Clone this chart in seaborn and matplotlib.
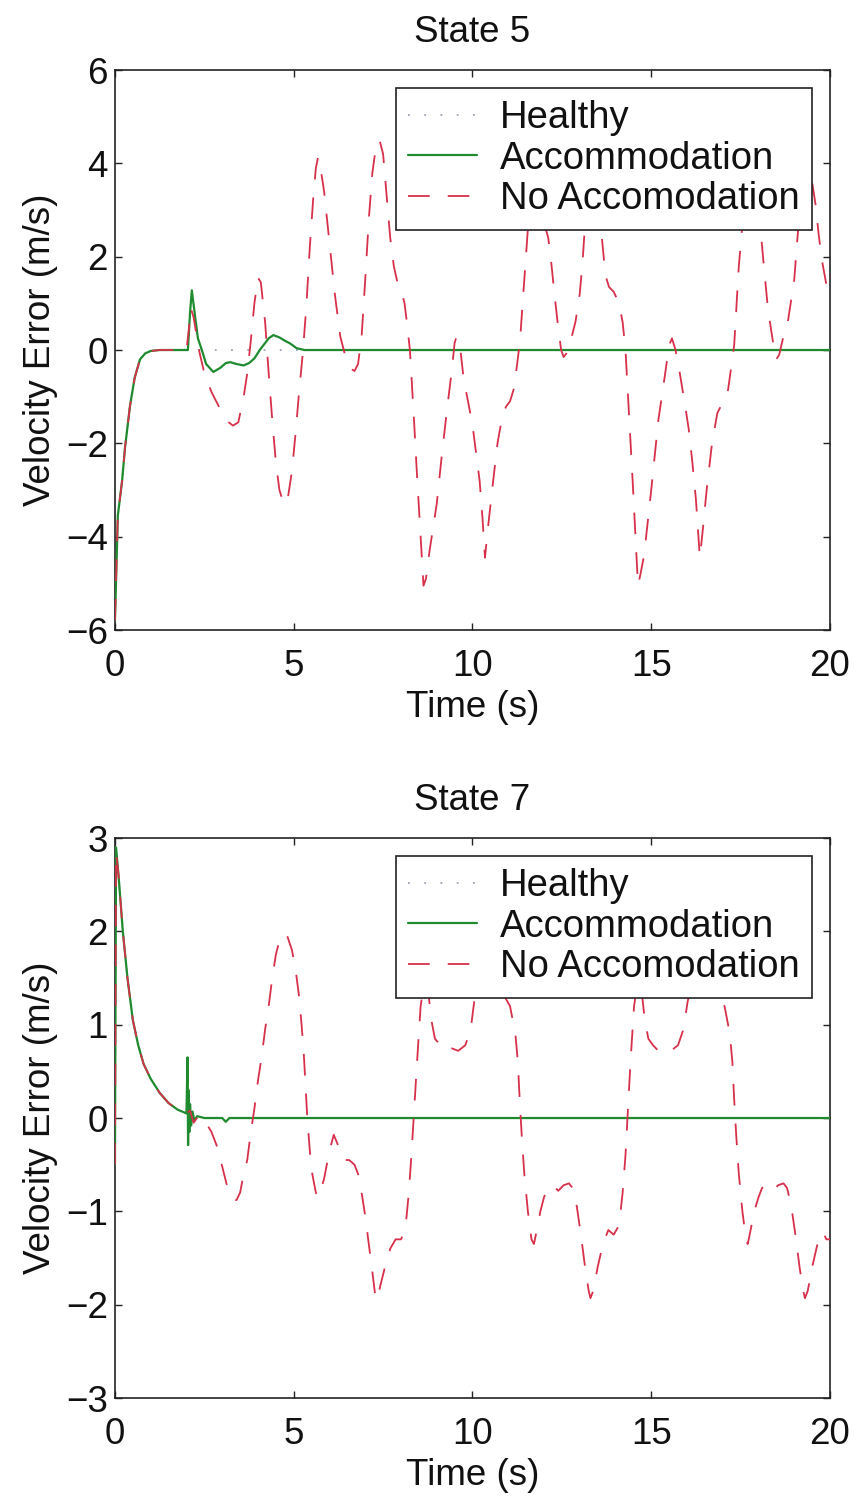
import matplotlib
matplotlib.use("Agg")
import matplotlib.pyplot as plt
import seaborn as sns

# ---- State 5 ----
s5_healthy_t = [0, 0.08, 0.2, 0.28, 0.42, 0.55, 0.7, 0.85, 1.0, 1.25, 2.0, 20]
s5_healthy_v = [-5.8, -3.55, -2.8, -2.1, -1.2, -0.6, -0.2, -0.07, -0.02, 0, 0, 0]

s5_accom_t = [0, 0.08, 0.2, 0.28, 0.42, 0.55, 0.7, 0.85, 1.0, 1.25, 2.0, 2.04, 2.1,
              2.15, 2.22, 2.32, 2.43, 2.55, 2.75, 2.95, 3.1, 3.22, 3.4, 3.6, 3.75,
              3.9, 4.05, 4.2, 4.3, 4.43, 4.6, 4.75, 4.9, 5.08, 5.3, 20]
s5_accom_v = [-5.8, -3.55, -2.8, -2.1, -1.2, -0.6, -0.2, -0.07, -0.02, 0, 0, 0.0, 0.8,
              1.28, 0.85, 0.25, 0.0, -0.3, -0.47, -0.38, -0.28, -0.26, -0.3, -0.33, -0.28,
              -0.18, 0.0, 0.15, 0.25, 0.32, 0.27, 0.2, 0.14, 0.04, 0.0, 0.0]

s5_noacc_t = [0, 0.08, 0.2, 0.28, 0.42, 0.55, 0.7, 0.85, 1.0, 1.25, 2.0, 2.06, 2.12,
              2.2, 2.35, 2.5, 2.7, 2.9, 3.1, 3.3, 3.45, 3.6, 3.7, 3.8, 3.9, 4.0, 4.08,
              4.2, 4.3, 4.4, 4.5, 4.6, 4.72, 4.78, 4.85, 4.95, 5.05, 5.15, 5.25, 5.35,
              5.45, 5.55, 5.62, 5.68, 5.75, 5.85, 6.0, 6.15, 6.3, 6.45, 6.6, 6.7, 6.8,
              6.9, 7.0, 7.1, 7.2, 7.3, 7.4, 7.5, 7.6, 7.7, 7.8, 7.9, 8.0, 8.1, 8.18,
              8.25, 8.35, 8.45, 8.55, 8.63, 8.7, 8.8, 9.0, 9.15, 9.3, 9.42, 9.5, 9.55,
              9.65, 9.75, 9.9, 10.0, 10.1, 10.2, 10.28, 10.35, 10.42, 10.55, 10.7,
              10.85, 10.95, 11.05, 11.15, 11.25, 11.33, 11.45, 11.55, 11.65, 11.75,
              11.85, 11.95, 12.05, 12.12, 12.2, 12.28, 12.38, 12.48, 12.55, 12.65,
              12.78, 12.88, 13.0, 13.08, 13.15, 13.25, 13.35, 13.45, 13.55, 13.62,
              13.72, 13.82, 13.95, 14.1, 14.2, 14.28, 14.38, 14.48, 14.56, 14.63,
              14.7, 14.8, 15.0, 15.2, 15.4, 15.5, 15.58, 15.68, 15.8, 15.95, 16.05,
              16.15, 16.25, 16.36, 16.45, 16.55, 16.7, 16.85, 16.95, 17.05, 17.15,
              17.25, 17.32, 17.45, 17.52, 17.6, 17.7, 17.8, 17.9, 18.0, 18.08, 18.15,
              18.25, 18.32, 18.42, 18.5, 18.58, 18.7, 18.8, 19.0, 19.1, 19.2, 19.32,
              19.42, 19.5, 19.6, 19.68, 19.78, 19.9, 20.0]
s5_noacc_v = [-5.8, -3.55, -2.8, -2.1, -1.2, -0.6, -0.2, -0.07, -0.02, 0, 0, 0.4, 0.9,
              0.7, 0.0, -0.5, -0.9, -1.2, -1.5, -1.62, -1.55, -1.0, -0.5, 0.2, 1.0, 1.55, 1.45,
              0.6, -0.5, -1.5, -2.4, -3.0, -3.3, -3.3, -3.1, -2.6, -1.8, -0.9, -0.1, 0.9,
              2.2, 3.3, 3.9, 4.13, 3.9, 3.4, 2.3, 1.2, 0.3, -0.15, -0.4, -0.45, -0.3,
              0.3, 1.5, 2.8, 3.8, 4.35, 4.5, 4.2, 3.3, 2.4, 1.8, 1.45, 1.3, 1.0, 0.5,
              0.0, -1.3, -2.7, -4.0, -5.05, -4.9, -4.3, -3.3, -2.2, -1.2, -0.45, 0.15, 0.28,
              0.1, -0.6, -1.2, -1.6, -2.2, -2.8, -3.6, -4.45, -3.9, -3.0, -2.0,
              -1.35, -1.2, -1.1, -0.85, -0.3, 0.2, 1.5, 2.6, 3.6, 4.1,
              3.8, 3.2, 2.6, 2.4, 1.9, 1.3, 0.6, 0.0, -0.15, -0.05,
              0.3, 0.6, 1.2, 1.9, 2.7, 3.8, 4.3, 3.9, 3.0, 2.4,
              1.6, 1.35, 1.25, 1.0, 0.6, 0.0, -1.4, -2.8, -4.0, -5.05,
              -4.8, -4.4, -3.0, -1.5, -0.45, 0.1, 0.25, 0.0, -0.5, -1.2, -1.7,
              -2.4, -3.2, -4.45, -3.8, -3.0, -2.0, -1.35, -1.2, -1.1, -0.85,
              -0.3, 0.1, 1.8, 2.4, 3.3, 3.9, 4.1, 3.7, 3.0, 2.4, 1.8,
              1.0, 0.6, 0.1, -0.2, -0.1, 0.3, 0.5, 1.5, 2.5, 3.5, 4.2,
              4.0, 3.6, 3.1, 2.5, 1.9, 1.4, 1.3]

# ---- State 7 ----
s7_healthy_t = [0, 0.03, 0.1, 0.22, 0.35, 0.5, 0.65, 0.8, 1.0, 1.25, 1.5, 1.75, 2.0, 2.5, 20]
s7_healthy_v = [-0.5, 2.9, 2.6, 2.0, 1.5, 1.05, 0.78, 0.58, 0.42, 0.27, 0.16, 0.09, 0.05, 0.0, 0.0]

s7_accom_t = [0, 0.03, 0.1, 0.22, 0.35, 0.5, 0.65, 0.8, 1.0, 1.25, 1.5, 1.75, 2.0, 2.03,
              2.045, 2.06, 2.08, 2.1, 2.13, 2.17, 2.22, 2.3, 2.5, 3.0, 3.1, 3.2, 20]
s7_accom_v = [-0.5, 2.9, 2.6, 2.0, 1.5, 1.05, 0.78, 0.58, 0.42, 0.27, 0.16, 0.09, 0.05, 0.65,
              -0.29, 0.3, -0.15, 0.15, -0.08, 0.07, -0.03, 0.02, 0.0, 0.0, -0.04, 0.0, 0.0]

s7_noacc_t = [0, 0.03, 0.1, 0.22, 0.35, 0.5, 0.65, 0.8, 1.0, 1.25, 1.5, 1.75, 2.0, 2.1,
              2.2, 2.35, 2.5, 2.7, 2.85, 3.0, 3.15, 3.3, 3.4, 3.5, 3.6, 3.7, 3.8, 3.9,
              4.0, 4.1, 4.2, 4.3, 4.4, 4.5, 4.6, 4.72, 4.82, 4.95, 5.05, 5.15, 5.22,
              5.28, 5.33, 5.38, 5.45, 5.52, 5.62, 5.7, 5.85, 6.0, 6.12, 6.25, 6.4,
              6.55, 6.7, 6.8, 6.9, 7.0, 7.1, 7.2, 7.28, 7.34, 7.42, 7.55, 7.7, 7.85,
              8.0, 8.12, 8.22, 8.3, 8.37, 8.45, 8.55, 8.65, 8.75, 8.85, 8.95, 9.1,
              9.25, 9.4, 9.6, 9.8, 9.95, 10.05, 10.2, 10.4, 10.6, 10.75, 10.9, 11.05,
              11.2, 11.27, 11.32, 11.38, 11.45, 11.55, 11.65, 11.72, 11.8, 11.9, 12.0,
              12.1, 12.25, 12.4, 12.55, 12.7, 12.8, 12.92, 13.05, 13.15, 13.25, 13.3,
              13.38, 13.5, 13.65, 13.8, 13.95, 14.1, 14.2, 14.28, 14.35, 14.42, 14.52,
              14.62, 14.72, 14.82, 14.92, 15.05, 15.2, 15.35, 15.55, 15.75, 15.9, 16.02,
              16.15, 16.4, 16.6, 16.75, 16.9, 17.05, 17.2, 17.27, 17.32, 17.38, 17.45,
              17.55, 17.65, 17.7, 17.78, 17.88, 18.0, 18.1, 18.25, 18.4, 18.55, 18.7,
              18.8, 18.92, 19.05, 19.15, 19.25, 19.3, 19.38, 19.5, 19.65, 19.8, 19.9, 20.0]
s7_noacc_v = [-0.5, 2.85, 2.6, 2.0, 1.5, 1.05, 0.78, 0.58, 0.42, 0.27, 0.16, 0.09, 0.05, 0.08,
              -0.05, 0.03, -0.02, -0.15, -0.3, -0.52, -0.75, -0.87, -0.88, -0.8, -0.6, -0.45, -0.15, 0.1,
              0.4, 0.65, 0.95, 1.2, 1.5, 1.75, 1.9, 1.98, 1.95, 1.8, 1.6, 1.3, 1.0,
              0.7, 0.35, 0.0, -0.35, -0.6, -0.8, -0.85, -0.65, -0.35, -0.18, -0.3, -0.45,
              -0.45, -0.5, -0.6, -0.8, -1.05, -1.35, -1.65, -1.9, -1.95, -1.8, -1.6, -1.4, -1.3,
              -1.3, -1.2, -0.8, -0.35, 0.1, 0.6, 1.2, 1.45, 1.4, 1.05, 0.85, 0.78,
              0.72, 0.75, 0.72, 0.78, 0.95, 1.25, 1.45, 1.5, 1.5, 1.4, 1.3, 1.2,
              0.9, 0.6, 0.2, -0.2, -0.6, -1.0, -1.3, -1.35, -1.2, -1.0, -0.85,
              -0.75, -0.72, -0.78, -0.72, -0.7, -0.75, -0.95, -1.3, -1.6, -1.85, -1.93,
              -1.85, -1.6, -1.35, -1.2, -1.25, -1.15, -0.8, -0.4, 0.1, 0.6, 1.2,
              1.45, 1.4, 1.05, 0.85, 0.78, 0.72, 0.75, 0.72, 0.78, 0.95, 1.25,
              1.45, 1.5, 1.5, 1.4, 1.3, 1.2, 0.9, 0.6, 0.2, -0.2, -0.6,
              -1.0, -1.3, -1.35, -1.2, -1.0, -0.85, -0.75, -0.72, -0.78, -0.72, -0.7,
              -0.75, -0.95, -1.3, -1.6, -1.85, -1.93, -1.85, -1.6, -1.35, -1.22, -1.3, -1.3]

labels = ["Healthy", "Accommodation", "No Accomodation"]
x_ticks = [0, 5, 10, 15, 20]

sns.set_theme(style="ticks")
plt.rcParams["font.family"] = ["Liberation Sans", "DejaVu Sans"]
plt.rcParams["font.size"] = 26.5
for key in ["text.color", "axes.labelcolor", "xtick.color", "ytick.color"]:
    plt.rcParams[key] = "#111111"


def draw_panel(ax, healthy, accom, noacc, title, ylim, yticks):
    sns.lineplot(x=healthy[0], y=healthy[1], ax=ax, estimator=None, sort=False,
                 color="#9aa3b8", lw=1.3, linestyle=(0, (1, 8)), label=labels[0], zorder=2)
    sns.lineplot(x=accom[0], y=accom[1], ax=ax, estimator=None, sort=False,
                 color="#1f8a2e", lw=1.6, label=labels[1], zorder=3)
    sns.lineplot(x=noacc[0], y=noacc[1], ax=ax, estimator=None, sort=False,
                 color="#d8304a", lw=1.3, linestyle=(0, (12, 10)), label=labels[2], zorder=4)
    ax.set_xlim(0, 20)
    ax.set_ylim(*ylim)
    ax.set_xticks(x_ticks)
    ax.set_yticks(yticks)
    ax.tick_params(direction="in", top=True, right=True, length=5, width=1,
                   labelsize=26.5, color="#222222")
    ax.tick_params(axis="x", pad=14)
    ax.tick_params(axis="y", pad=5)
    for sp in ax.spines.values():
        sp.set_visible(True)
        sp.set_color("#222222")
        sp.set_linewidth(1.2)
    ax.set_title(title, fontsize=26.5, pad=20)
    ax.set_xlabel("Time (s)", fontsize=26.5, labelpad=4)
    ax.set_ylabel("Velocity Error (m/s)", fontsize=26.5, labelpad=6)
    leg = ax.legend(loc="upper right", bbox_to_anchor=(0.975, 0.968), borderaxespad=0,
                    fontsize=27.5, frameon=True, fancybox=False, framealpha=1,
                    edgecolor="#222222", handlelength=1.8, handletextpad=0.6,
                    labelspacing=0.12, borderpad=0.32)
    leg.get_frame().set_linewidth(1.2)
    leg.set_zorder(10)


fig = plt.figure(figsize=(8.56, 15), dpi=100)
ax1 = fig.add_axes([0.1343, 0.58, 0.8353, 0.3733])
ax2 = fig.add_axes([0.1343, 0.068, 0.8353, 0.3733])

draw_panel(ax1, (s5_healthy_t, s5_healthy_v), (s5_accom_t, s5_accom_v),
           (s5_noacc_t, s5_noacc_v), "State 5", (-6, 6), [-6, -4, -2, 0, 2, 4, 6])
draw_panel(ax2, (s7_healthy_t, s7_healthy_v), (s7_accom_t, s7_accom_v),
           (s7_noacc_t, s7_noacc_v), "State 7", (-3, 3), [-3, -2, -1, 0, 1, 2, 3])

fig.savefig("out.png", dpi=100)
